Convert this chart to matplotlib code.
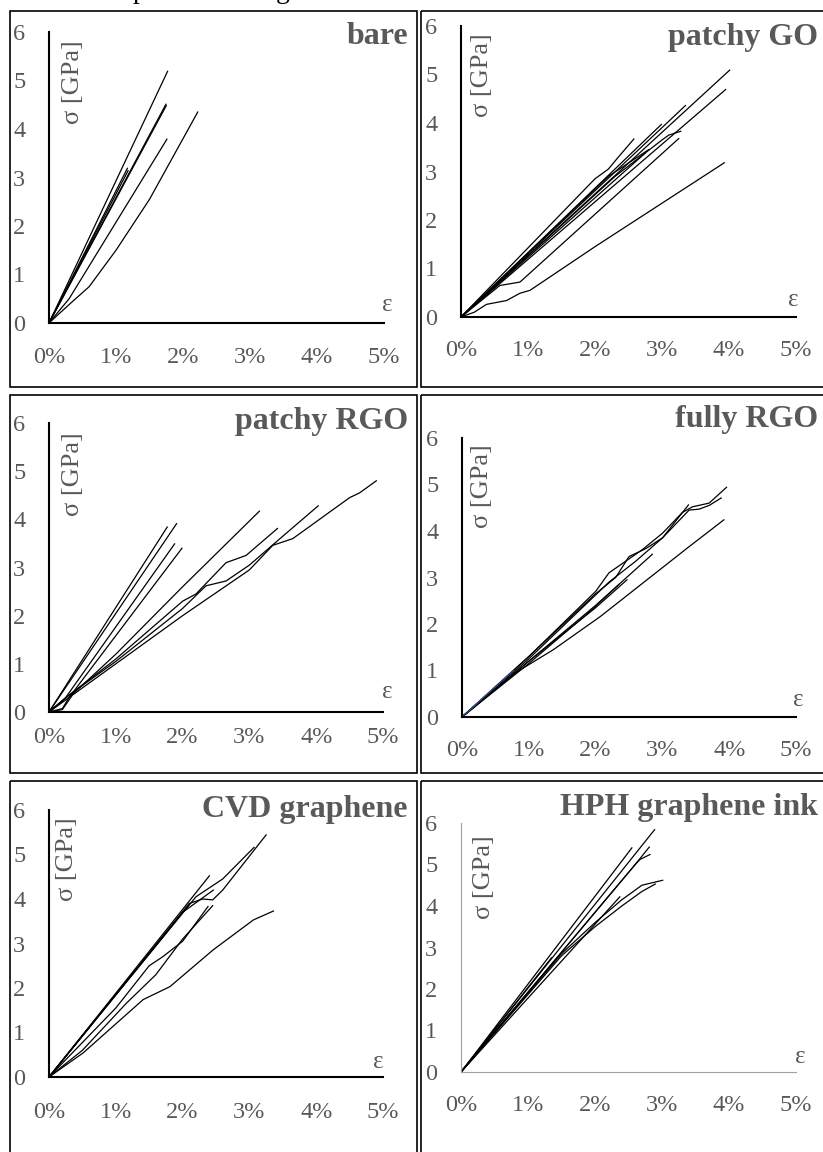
import matplotlib
matplotlib.use("Agg")
import matplotlib.pyplot as plt
from matplotlib.patches import Rectangle

plt.rcParams['font.family'] = ['Liberation Serif', 'DejaVu Serif']

W, H = 823, 1152
GREY = '#595959'

# strain in %, stress in GPa, one (strain, stress) pair per tensile test
bare_curves = [
  ([0, 1.77], [0, 5.19]),
  ([0, 1.745], [0, 4.51]),
  ([0, 1.75], [0, 4.48]),
  ([0, 0.3, 1.76], [0, 0.5, 3.79]),
  ([0, 0.3, 0.6, 1.0, 1.5, 2.22], [0, 0.38, 0.75, 1.5, 2.55, 4.35]),
  ([0, 1.17], [0, 3.19]),
  ([0, 1.18], [0, 3.14]),
]

patchy_go_curves = [
  ([0, 4.01], [0, 5.09]),
  ([0, 3.95], [0, 4.69]),
  ([0, 3.35], [0, 4.36]),
  ([0, 2.99], [0, 3.97]),
  ([0, 2.0, 2.2, 2.35, 2.58], [0, 2.85, 3.05, 3.3, 3.67]),
  ([0, 2.3, 3.0, 3.1, 3.28], [0, 2.9, 3.65, 3.75, 3.83]),
  ([0, 0.58, 0.88, 3.25], [0, 0.65, 0.72, 3.68]),
  ([0, 2.75], [0, 3.38]),
  ([0, 2.2, 2.8], [0, 2.9, 3.45]),
  ([0, 0.2, 0.38, 0.68, 0.88, 1.03, 2.0, 3.93], [0, 0.1, 0.26, 0.34, 0.49, 0.55, 1.45, 3.18]),
]

patchy_rgo_curves = [
  ([0, 1.77], [0, 3.84]),
  ([0, 1.91], [0, 3.91]),
  ([0, 0.25, 1.88], [0, 0.3, 3.49]),
  ([0, 0.2, 0.3, 1.99], [0, 0.07, 0.3, 3.40]),
  ([0, 0.3, 1.0, 2.0, 3.15], [0, 0.3, 1.2, 2.6, 4.17]),
  ([0, 0.3, 1.0, 2.0, 2.2, 2.65, 2.95, 3.42], [0, 0.35, 1.1, 2.3, 2.45, 3.1, 3.25, 3.81]),
  ([0, 0.3, 1.0, 2.0, 2.35, 2.65, 3.0, 3.5, 4.03], [0, 0.35, 1.05, 2.15, 2.62, 2.72, 3.05, 3.65, 4.28]),
  ([0, 0.2, 0.35, 1.0, 2.0, 3.0, 3.35, 3.65, 4.0, 4.5, 4.65, 4.9],
   [0, 0.05, 0.35, 1.0, 2.0, 2.95, 3.46, 3.6, 3.95, 4.45, 4.55, 4.8]),
]

fully_rgo_curves = [
  ([0, 1.0, 2.0, 2.2, 2.4, 2.7, 3.0, 3.3, 3.45, 3.7, 3.96],
   [0, 1.3, 2.7, 3.1, 3.3, 3.6, 3.95, 4.4, 4.52, 4.6, 4.94]),
  ([0, 1.0, 2.0, 2.3, 2.5, 2.75, 3.0, 3.3, 3.4, 3.55, 3.7, 3.88],
   [0, 1.3, 2.65, 3.0, 3.45, 3.62, 3.85, 4.3, 4.45, 4.47, 4.55, 4.71]),
  ([0, 1.0, 2.2, 2.6, 3.0, 3.39], [0, 1.25, 2.9, 3.35, 3.85, 4.56]),
  ([0, 0.8, 1.37, 2.07, 3.37, 3.92], [0, 0.95, 1.45, 2.16, 3.63, 4.24]),
  ([0, 1.0, 2.0, 2.85], [0, 1.2, 2.4, 3.50]),
  ([0, 1.0, 2.0, 2.47], [0, 1.2, 2.35, 2.95]),
  ([0, 1.0, 1.9, 2.35], [0, 1.15, 2.25, 2.85]),
]
fully_rgo_blue = ([0, 0.77], [0, 1.0])

cvd_curves = [
  ([0, 2.1, 2.3, 2.45, 2.6, 3.25], [0, 3.9, 4.0, 3.98, 4.2, 5.44]),
  ([0, 2.2, 2.6, 3.07], [0, 4.05, 4.45, 5.16]),
  ([0, 2.40], [0, 4.52]),
  ([0, 2.1], [0, 3.88]),
  ([0, 2.0, 2.46], [0, 3.7, 4.2]),
  ([0, 1.0, 1.5, 1.7, 2.0, 2.38], [0, 1.55, 2.5, 2.7, 3.05, 3.83]),
  ([0, 0.5, 1.16, 1.6, 2.0, 2.45], [0, 0.6, 1.66, 2.3, 3.1, 3.85]),
  ([0, 0.51, 1.41, 1.81, 2.46, 3.06, 3.36], [0, 0.54, 1.74, 2.03, 2.86, 3.53, 3.73]),
]

hph_curves = [
  ([0, 2.89], [0, 5.84]),
  ([0, 2.55], [0, 5.40]),
  ([0, 2.6, 2.81], [0, 5.0, 5.42]),
  ([0, 2.6, 2.67, 2.82], [0, 5.0, 5.12, 5.24]),
  ([0, 1.5, 2.0, 2.4, 2.7, 3.01], [0, 2.85, 3.6, 4.15, 4.5, 4.62]),
  ([0, 1.5, 2.0, 2.4, 2.7, 2.90], [0, 2.8, 3.5, 4.0, 4.35, 4.53]),
  ([0, 2.37], [0, 4.22]),
  ([0, 1.35], [0, 2.75]),
]

titles = ['bare', 'patchy GO', 'patchy RGO', 'fully RGO', 'CVD graphene', 'HPH graphene ink']
all_curves = [bare_curves, patchy_go_curves, patchy_rgo_curves,
              fully_rgo_curves, cvd_curves, hph_curves]
x_ticks = [0, 1, 2, 3, 4, 5]
y_ticks = [0, 1, 2, 3, 4, 5, 6]

# layout in pixels: origin x, origin y, x at 5 %, y at 6 GPa
boxes = [(49, 323, 384, 32), (461, 317, 796, 26),
         (49, 712, 383, 423), (462, 717, 796, 438),
         (49, 1077, 383, 810), (461, 1072, 796, 823)]
title_pos = [(408, 37), (818, 38), (408, 422), (818, 420), (408, 810), (818, 808)]
sigma_pos = [(73, 82), (482, 75), (73, 474), (482, 486), (67, 859), (484, 877)]
eps_pos = [(387, 305), (793, 300), (387, 692), (798, 700), (378, 1062), (800, 1057)]
xpad_px = [24, 23, 15, 23, 25, 23]


def fx(px):
  return px / W


def fy(py):
  return 1 - py / H


fig = plt.figure(figsize=(W / 100, H / 100), dpi=100)

# table-like cell borders
bg = fig.add_axes([0, 0, 1, 1])
bg.set_xlim(0, W)
bg.set_ylim(H, 0)
bg.axis('off')
for (cx0, cx1) in [(10, 417), (421, 830)]:
  for (cy0, cy1) in [(11, 387), (395, 773), (781, 1165)]:
    bg.add_patch(Rectangle((cx0, cy0), cx1 - cx0, cy1 - cy0, fill=False,
                           edgecolor='black', lw=1.2))

# line of text above the figure, cut off by the top edge
fig.text(fx(140), fy(-2), 'p', fontsize=20, color='black', ha='center', va='baseline')
fig.text(fx(283), fy(-2), 'g', fontsize=20, color='black', ha='center', va='baseline')

for i, (curves, title) in enumerate(zip(all_curves, titles)):
  x0, y0, x1, y1 = boxes[i]
  ax = fig.add_axes([fx(x0), fy(y0), (x1 - x0) / W, (y0 - y1) / H])
  ax.patch.set_alpha(0)
  for strain, stress in curves:
    ax.plot(strain, stress, color='black', lw=0.9)
  if i == 3:
    ax.plot(fully_rgo_blue[0], fully_rgo_blue[1], color='#2f4f8f', lw=0.9)
  ax.set_xlim(0, 5)
  ax.set_ylim(0, 6)
  ax.set_xticks(x_ticks)
  ax.set_xticklabels([f'{t}%' for t in x_ticks])
  ax.set_yticks(y_ticks)
  for s in ['top', 'right']:
    ax.spines[s].set_visible(False)
  axis_color = '#a0a0a0' if i == 5 else 'black'
  axis_lw = 0.8 if i == 5 else 1.5
  for s in ['left', 'bottom']:
    ax.spines[s].set_color(axis_color)
    ax.spines[s].set_linewidth(axis_lw)
  ax.tick_params(axis='both', length=0, labelsize=17.5, labelcolor=GREY)
  ax.tick_params(axis='y', pad=17)
  ax.tick_params(axis='x', pad=xpad_px[i] * 0.72)

  tx, ty = title_pos[i]
  fig.text(fx(tx), fy(ty), title, fontsize=23, fontweight='bold', color=GREY,
           ha='right', va='center')
  sx, sy = sigma_pos[i]
  fig.text(fx(sx), fy(sy), 'σ [GPa]', fontsize=19, color=GREY, rotation=90,
           ha='center', va='center')
  ex, ey = eps_pos[i]
  fig.text(fx(ex), fy(ey), 'ε', fontsize=18, color=GREY, ha='center', va='center')

fig.savefig('out.png', dpi=100)
